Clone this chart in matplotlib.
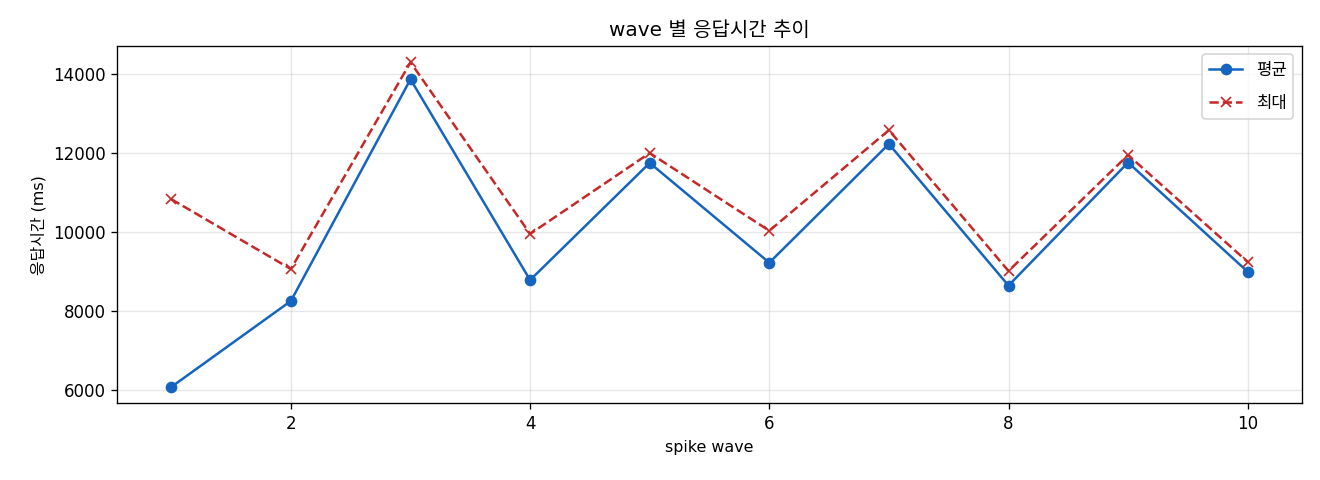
import matplotlib
matplotlib.use("Agg")
import matplotlib.pyplot as plt

plt.rcParams['font.family'] = ['DejaVu Sans', 'Noto Sans CJK KR']
plt.rcParams['axes.unicode_minus'] = False

waves = [1, 2, 3, 4, 5, 6, 7, 8, 9, 10]
avg_ms = [6070, 8250, 13870, 8780, 11750, 9220, 12230, 8640, 11760, 8990]
max_ms = [10830, 9060, 14300, 9950, 12000, 10030, 12580, 9010, 11950, 9240]

fig, ax = plt.subplots(figsize=(11, 4), dpi=120)
ax.plot(waves, avg_ms, marker='o', linestyle='-', color='#1565C0', label='평균')
ax.plot(waves, max_ms, marker='x', linestyle='--', color='#C62828', label='최대')
ax.set_title('wave 별 응답시간 추이', fontsize=12)
ax.set_xlabel('spike wave', fontsize=9.5)
ax.set_ylabel('응답시간 (ms)', fontsize=9.5)
ax.grid(True, alpha=0.3)
ax.legend(labelspacing=0.9)
fig.subplots_adjust(left=0.089, right=0.986, top=0.904, bottom=0.16)
plt.savefig('out.png')
